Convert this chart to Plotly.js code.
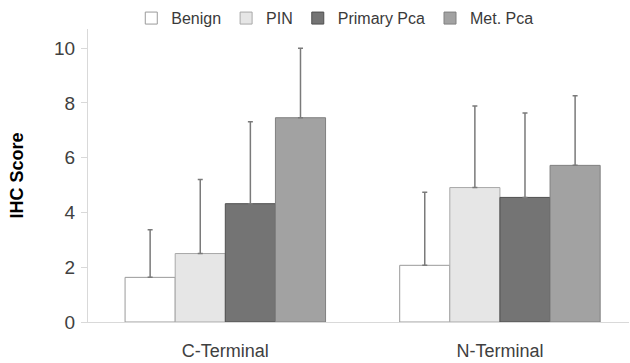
<!DOCTYPE html>
<html>
<head>
<meta charset="utf-8">
<script src="https://cdn.plot.ly/plotly-3.0.1.min.js"></script>
<style>html,body{margin:0;padding:0;background:#fff;}#chart{width:630px;height:363px;}</style>
</head>
<body>
<div id="chart"></div>
<script>
var categories = ["C-Terminal", "N-Terminal"];
var seriesNames = ["Benign", "PIN", "Primary Pca", "Met. Pca"];
var benign = [1.63, 2.07];
var pin = [2.50, 4.91];
var primary = [4.32, 4.55];
var met = [7.46, 5.72];
var benignErr = [1.74, 2.67];
var pinErr = [2.70, 2.98];
var primaryErr = [2.99, 3.08];
var metErr = [2.54, 2.54];
var yTicks = [0, 2, 4, 6, 8, 10];

var fills = ["#ffffff", "#e6e6e6", "#747474", "#a2a2a2"];
var outlines = ["#9a9a9a", "#a8a8a8", "#4f4f4f", "#808080"];
var values = [benign, pin, primary, met];
var errs = [benignErr, pinErr, primaryErr, metErr];

var traces = values.map(function (v, i) {
  return {
    type: "bar",
    name: seriesNames[i],
    x: categories,
    y: v,
    marker: { color: fills[i], line: { color: outlines[i], width: 1 } },
    error_y: {
      type: "data",
      symmetric: false,
      array: errs[i],
      arrayminus: v.map(function () { return 0; }),
      color: "#7a7a7a",
      thickness: 1.5,
      width: 2.5
    },
    hoverinfo: "none"
  };
});

var font = "Liberation Sans, Arial, sans-serif";
var layout = {
  width: 630,
  height: 363,
  margin: { l: 88, r: 1, t: 29, b: 41 },
  paper_bgcolor: "#ffffff",
  plot_bgcolor: "#ffffff",
  barmode: "group",
  bargap: 0.27,
  bargroupgap: 0,
  showlegend: true,
  legend: {
    orientation: "h",
    x: 0.08,
    xanchor: "left",
    y: 1.095,
    yanchor: "top",
    font: { family: font, size: 16, color: "#3a3a3a" },
    bgcolor: "rgba(0,0,0,0)"
  },
  font: { family: font, color: "#404040" },
  xaxis: {
    type: "category",
    range: [-0.5, 1.47],
    showline: true,
    linecolor: "#d9d9d9",
    linewidth: 1,
    ticks: "",
    showgrid: false,
    zeroline: false,
    ticklabelstandoff: 12,
    tickfont: { family: font, size: 18, color: "#404040" }
  },
  yaxis: {
    range: [0, 10.7],
    tickvals: yTicks,
    ticktext: yTicks.map(String),
    showline: true,
    linecolor: "#d9d9d9",
    linewidth: 1,
    ticks: "outside",
    ticklen: 6,
    tickcolor: "#d9d9d9",
    showgrid: false,
    zeroline: false,
    ticklabelstandoff: 2,
    tickfont: { family: font, size: 19, color: "#404040" },
    title: { text: "IHC Score", font: { family: font, size: 18, color: "#000000", weight: "bold" }, standoff: 25 }
  }
};

Plotly.newPlot("chart", traces, layout, { displayModeBar: false, staticPlot: true });
</script>
</body>
</html>
